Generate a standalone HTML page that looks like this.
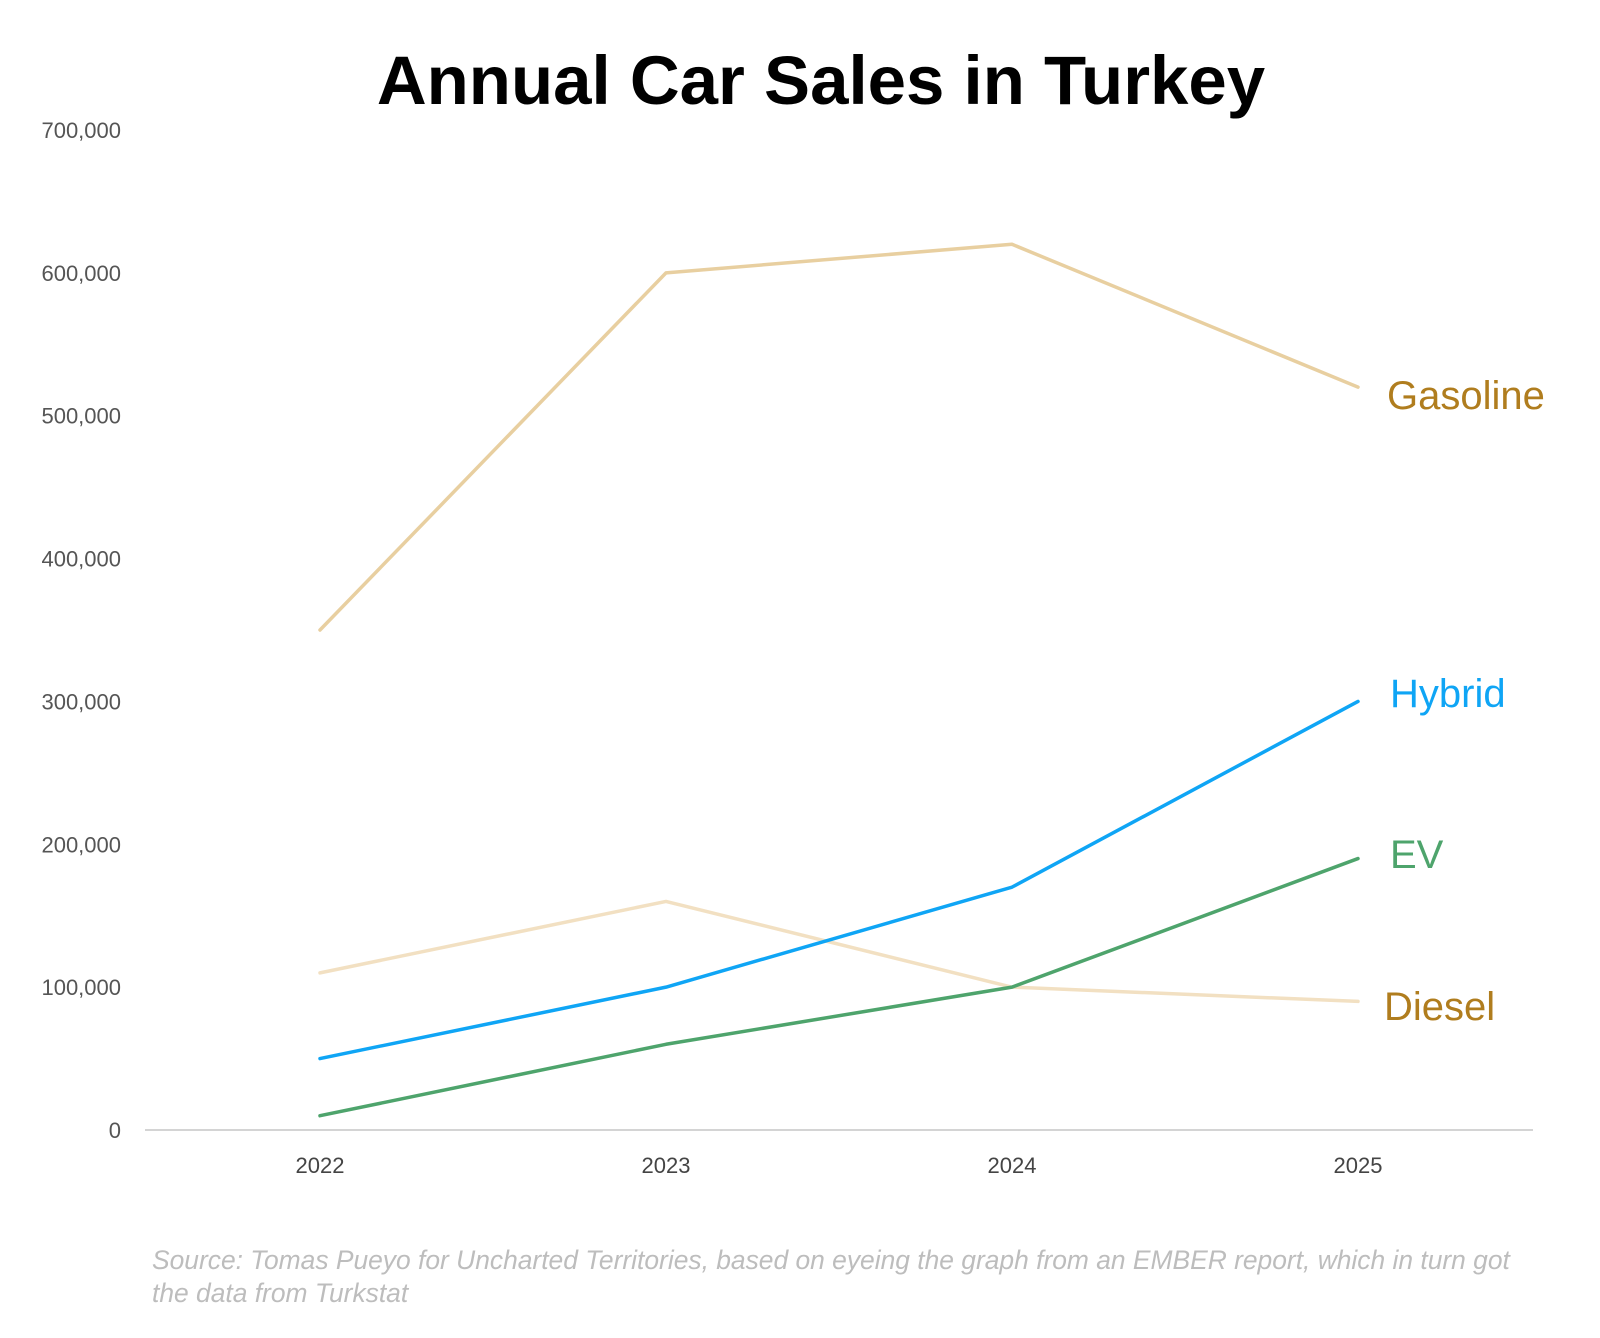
<!DOCTYPE html>
<html><head><meta charset="utf-8"><style>
body{margin:0;background:#fff;}
svg{display:block;font-family:"Liberation Sans",Arial,sans-serif;}
</style></head><body>
<svg id="chart" width="1600" height="1338" viewBox="0 0 1600 1338">
<text x="821" y="104" text-anchor="middle" font-size="69" font-weight="bold" fill="#000">Annual Car Sales in Turkey</text>
<g id="yticks"></g>
<g id="xticks"></g>
<line x1="145" x2="1533" y1="1130" y2="1130" stroke="#d4d4d4" stroke-width="2"/>
<g id="series"></g>
<text x="152" y="1269" font-size="26.4" font-style="italic" fill="#bdbdbd">Source: Tomas Pueyo for Uncharted Territories, based on eyeing the graph from an EMBER report, which in turn got</text>
<text x="152" y="1302" font-size="26.4" font-style="italic" fill="#bdbdbd">the data from Turkstat</text>
</svg>
<script>
const years = ["2022","2023","2024","2025"];
const yTicks = [0,100000,200000,300000,400000,500000,600000,700000];
const gasoline = [350000,600000,620000,520000];
const diesel = [110000,160000,100000,90000];
const hybrid = [50000,100000,170000,300000];
const ev = [10000,60000,100000,190000];

const NS="http://www.w3.org/2000/svg";
function xs(i){return 320+i*346;}
function ys(v){return 1130-v*(1000/700000);}
const yg=document.getElementById('yticks');
yTicks.forEach(v=>{
  const t=document.createElementNS(NS,'text');
  t.setAttribute('x',121);t.setAttribute('y',ys(v)+8);
  t.setAttribute('text-anchor','end');t.setAttribute('font-size','22');t.setAttribute('fill','#555');
  t.textContent=v.toLocaleString('en-US');
  
  
  yg.appendChild(t);
});
const xg=document.getElementById('xticks');
years.forEach((y,i)=>{
  const t=document.createElementNS(NS,'text');
  t.setAttribute('x',xs(i));t.setAttribute('y',1173);
  t.setAttribute('text-anchor','middle');t.setAttribute('font-size','22');t.setAttribute('fill','#444');
  t.textContent=y;
  
  
  xg.appendChild(t);
});
const sg=document.getElementById('series');
const defs=[
 {name:'Diesel',data:diesel,line:'#f2e0c2',lab:'#b07d1e',dx:26},
 {name:'Gasoline',data:gasoline,line:'#e8cfa0',lab:'#b07d1e',dx:29},
 {name:'EV',data:ev,line:'#4ea46c',lab:'#4ea46c',dx:32},
 {name:'Hybrid',data:hybrid,line:'#0fa5f5',lab:'#0fa5f5',dx:32}
];
const labelY={Gasoline:395,Hybrid:693,EV:854,Diesel:1006};
defs.forEach(s=>{
  const p=document.createElementNS(NS,'polyline');
  p.setAttribute('points',s.data.map((v,i)=>xs(i)+','+ys(v)).join(' '));
  p.setAttribute('fill','none');p.setAttribute('stroke',s.line);p.setAttribute('stroke-width','3.5');
  p.setAttribute('stroke-linejoin','round');p.setAttribute('stroke-linecap','round');
  
  
  sg.appendChild(p);
  const t=document.createElementNS(NS,'text');
  t.setAttribute('x',xs(3)+s.dx);t.setAttribute('y',labelY[s.name]+14);
  t.setAttribute('font-size','40');t.setAttribute('fill',s.lab);
  t.textContent=s.name;
  
  
  sg.appendChild(t);
});
</script>
</body></html>
